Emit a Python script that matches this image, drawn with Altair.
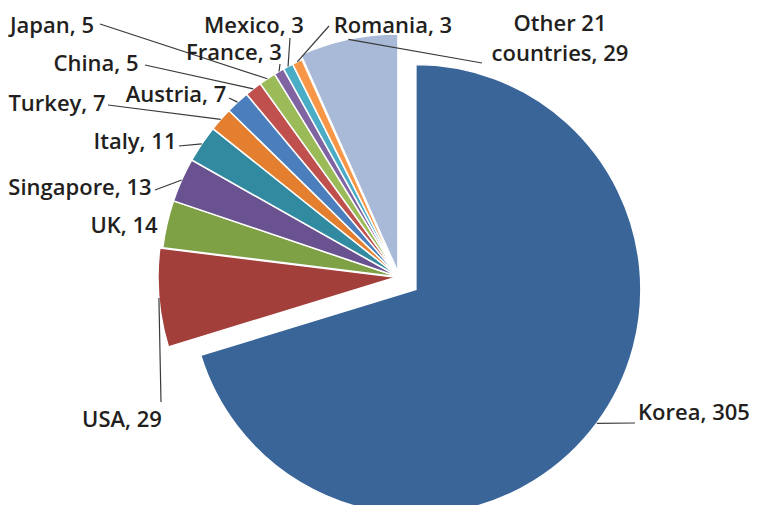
import math
import altair as alt
import pandas as pd

# ---------------- data ----------------
countries = ["Korea", "USA", "UK", "Singapore", "Italy", "Turkey", "Austria",
             "China", "Japan", "France", "Mexico", "Romania", "Other 21 countries"]
values = [305, 29, 14, 13, 11, 7, 7, 5, 5, 3, 3, 3, 29]
label_names = ["Korea", "USA", "UK", "Singapore", "Italy", "Turkey", "Austria",
               "China", "Japan", "France", "Mexico", "Romania", "Other 21\ncountries"]

# ---------------- style / layout ----------------
colors = ["#3a6599", "#a33f3b", "#7fa146", "#6a5190", "#328aa0", "#e47f2f",
          "#4a7ebd", "#c0504d", "#9bbb59", "#8064a2", "#4bacc6", "#f79646",
          "#a8bad8"]
M = 8                      # page margin
CX, CY = 399 - M, 277 - M  # pie centre (chart pixels)
R = 238
EXPLODE = {"Korea": 21, "USA": 3, "Other 21 countries": 5}
RADIUS = {"Korea": 225}
# label centres (page pixels); multi-line labels: centre of first line
LABEL_XY = {
    "Korea": (694, 413), "USA": (122, 420), "UK": (124, 226),
    "Singapore": (80, 188), "Italy": (135, 142), "Turkey": (57, 104),
    "Austria": (176, 95), "China": (96, 64), "Japan": (52, 26),
    "France": (234, 53), "Mexico": (254, 26), "Romania": (393, 26),
    "Other 21 countries": (560, 24),
}
# leader line start points (page pixels)
LEADER = {
    "Korea": (635, 423), "USA": (161, 402), "Singapore": (155, 190),
    "Italy": (179, 146), "Turkey": (108, 105), "Austria": (229, 98),
    "China": (145, 65), "Japan": (100, 24), "France": (280, 64),
    "Mexico": (290, 38), "Romania": (329, 26), "Other 21 countries": (482, 63),
}

TOTAL = sum(values)
df = pd.DataFrame({
    "country": countries,
    "value": values,
    "label": [f"{n}, {v}" for n, v in zip(label_names, values)],
    "order": list(range(len(countries))),
})
df["explode"] = [EXPLODE.get(c, 0) for c in countries]
df["r"] = [RADIUS.get(c, R) for c in countries]
df["tx"] = [LABEL_XY[c][0] - M for c in countries]
df["ty"] = [LABEL_XY[c][1] - M for c in countries]
df["lx"] = [LEADER[c][0] - M if c in LEADER else None for c in countries]
df["ly"] = [LEADER[c][1] - M if c in LEADER else None for c in countries]

base = (
    alt.Chart(df)
    .transform_window(cum="sum(value)", sort=[alt.SortField("order")], frame=[None, 0])
    .transform_calculate(
        start="datum.cum - datum.value",
        mid=f"(datum.cum - datum.value/2) / {TOTAL} * 2 * PI",
    )
    .transform_calculate(
        cx=f"{CX} + datum.explode * sin(datum.mid)",
        cy=f"{CY} - datum.explode * cos(datum.mid)",
    )
    .transform_calculate(
        sx="datum.cx + datum.r * sin(datum.mid)",
        sy="datum.cy - datum.r * cos(datum.mid)",
    )
)

arcs = base.mark_arc(stroke="white", strokeWidth=1.5).encode(
    theta=alt.Theta("start:Q", stack=None,
                    scale=alt.Scale(domain=[0, TOTAL], range=[0, 2 * math.pi])),
    theta2="cum:Q",
    radius=alt.Radius("r:Q", scale=None),
    x=alt.X("cx:Q", scale=None, axis=None),
    y=alt.Y("cy:Q", scale=None, axis=None),
    color=alt.Color("country:N", scale=alt.Scale(domain=countries, range=colors),
                    legend=None),
)

leaders = base.transform_filter("isValid(datum.lx)").mark_rule(
    color="#3a3a3a", strokeWidth=1.2
).encode(
    x=alt.X("lx:Q", scale=None, axis=None),
    y=alt.Y("ly:Q", scale=None, axis=None),
    x2="sx:Q",
    y2="sy:Q",
)

texts = base.mark_text(
    font="Open Sans", fontSize=22, fontWeight=600, color="#231f20", align="center",
    baseline="middle", lineBreak="\n", lineHeight=30,
).encode(
    x=alt.X("tx:Q", scale=None, axis=None),
    y=alt.Y("ty:Q", scale=None, axis=None),
    text="label:N",
)

chart = (
    alt.layer(arcs, leaders, texts)
    .properties(width=741, height=497, autosize="none", padding=0)
    .configure_view(stroke=None)
)

chart.save("out.html", embed_options={"renderer": "svg", "actions": False})
